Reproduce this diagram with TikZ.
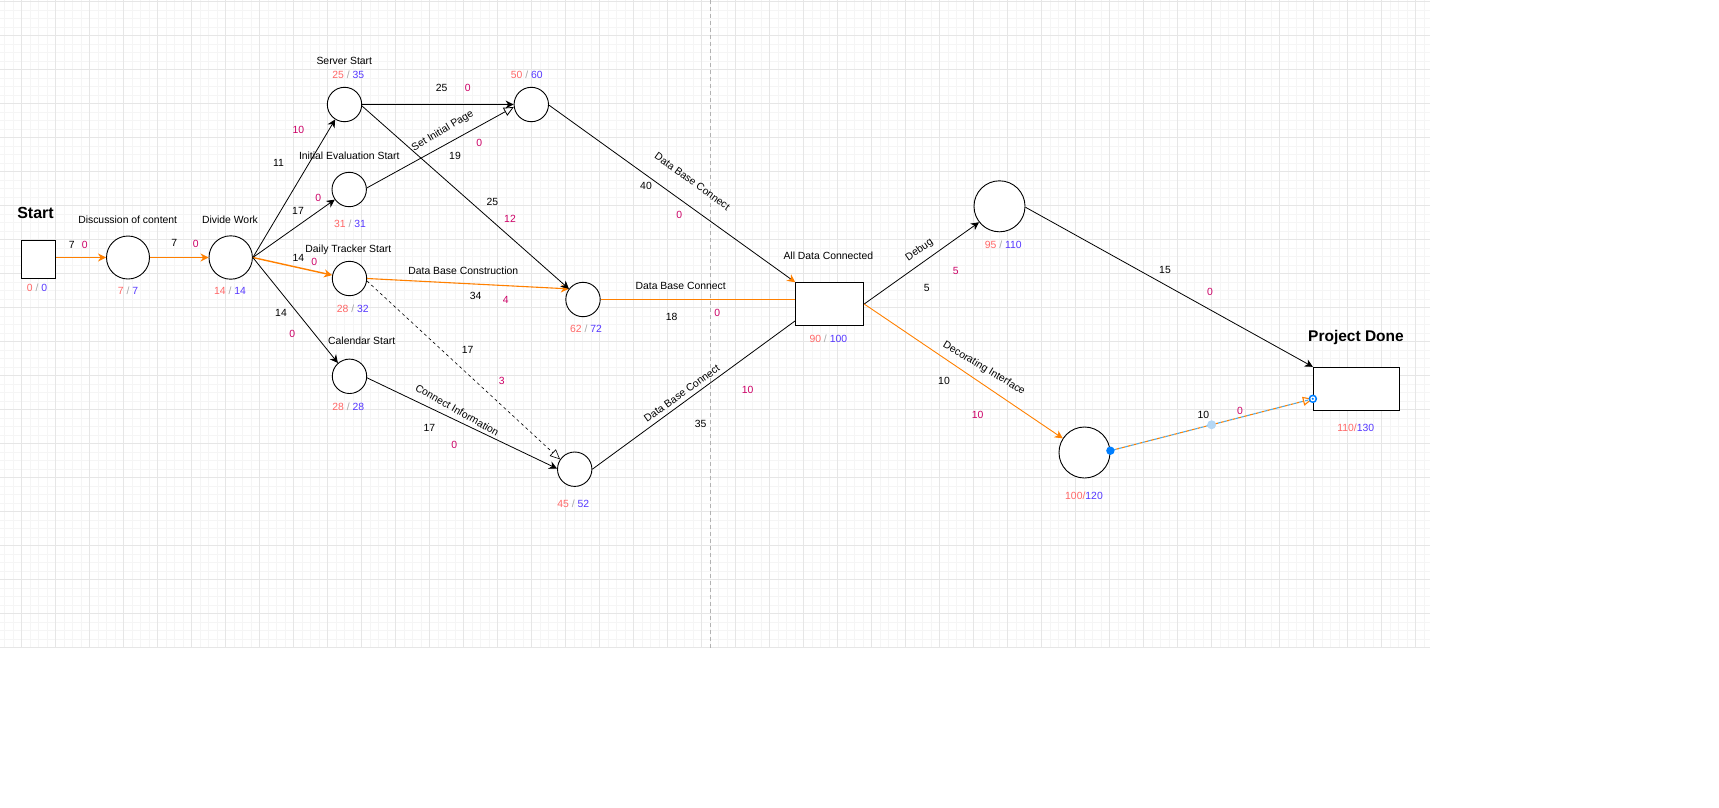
\documentclass[tikz,border=0pt]{standalone}
\usepackage{fontspec}
\setmainfont{Liberation Sans}
\usetikzlibrary{arrows.meta}
\definecolor{esred}{RGB}{255,102,102}
\definecolor{lsblue}{RGB}{85,55,255}
\definecolor{slack}{RGB}{204,0,102}
\definecolor{flow}{RGB}{255,128,0}
\definecolor{handle}{RGB}{0,127,255}
\definecolor{halo}{RGB}{180,215,245}
\definecolor{dashblue}{RGB}{80,170,225}
\definecolor{gridlo}{RGB}{245,245,245}
\definecolor{gridhi}{RGB}{230,230,230}

\begin{document}
\begin{tikzpicture}[x=1pt, y=-1pt,
	txt/.style={inner sep=0pt, text height=7.5pt, text depth=0pt, font=\fontsize{10.4}{12}\selectfont},
	slk/.style={txt, text=slack},
	title/.style={inner sep=0pt, font=\fontsize{15.5}{18}\selectfont\bfseries},
	evt/.style={circle, draw, line width=0.9pt, inner sep=0pt, minimum size=34.4pt, fill=white},
	box/.style={rectangle, draw, line width=1pt, inner sep=0pt, fill=white},
	link/.style={line width=0.8pt, -{Stealth[length=8pt, width=8pt, inset=2.5pt]}},
	crit/.style={link, draw=flow, line width=1.1pt},
	opentip/.style={-{Triangle[open, length=10pt, width=9pt]}}]
	\useasboundingbox (0,0) rectangle (1719,807);
	% grid
	\foreach \k in {-2,...,165}
		\draw [gridlo, line width=1pt] ({21.7+8.5*\k},0) -- ({21.7+8.5*\k},647.7);
	\foreach \k in {0,...,76}
		\draw [gridlo, line width=1pt] (0,{1.7+8.5*\k}) -- (1430,{1.7+8.5*\k});
	\foreach \k in {0,...,41}
		\draw [gridhi, line width=1pt] ({21.7+34*\k},0) -- ({21.7+34*\k},647.7);
	\foreach \k in {0,...,19}
		\draw [gridhi, line width=1pt] (0,{1.7+34*\k}) -- (1430,{1.7+34*\k});
	\draw [gray!60, line width=1pt, dash pattern=on 4pt off 3pt] (710.3,0) -- (710.3,647.7);

	% events
	\node [box, line width=1.3pt, minimum width=34pt, minimum height=38pt] (start) at (38.7,259.5) {};
	\node [evt, minimum size=43pt] (discuss) at (128,257.5) {};
	\node [evt, minimum size=43.4pt] (divide) at (230.7,257.5) {};
	\node [evt] (server) at (344.5,104.5) {};
	\node [evt] (initeval) at (349.2,189.5) {};
	\node [evt] (tracker) at (349.5,278.5) {};
	\node [evt] (calendar) at (349.5,376.3) {};
	\node [evt] (page) at (531.3,104.5) {};
	\node [evt] (dbbuild) at (583,299.5) {};
	\node [evt] (connect) at (574.7,469.2) {};
	\node [box, minimum width=68pt, minimum height=42.6pt] (alldata) at (829.7,304) {};
	\node [evt, minimum size=51pt] (debug) at (999.5,206.3) {};
	\node [evt, minimum size=51pt] (decor) at (1084.5,452.5) {};
	\node [box, minimum width=85.7pt, minimum height=43pt] (done) at (1356.2,388.8) {};

	% activities
	\draw [crit] (discuss.west -| start.east) -- (discuss.west);
	\draw [crit] (discuss.east) -- (divide.west);
	\draw [link] (divide.east) -- (server.238);
	\draw [link] (divide.east) -- (initeval.215);
	\draw [crit, line width=1.4pt] (divide.east) -- (tracker.169);
	\draw [link] (divide.east) -- (calendar.131);
	\draw [link, line width=1.3pt] (server.east) -- (page.west);
	\draw [line width=0.8pt, opentip] (initeval.5) -- (page.188);
	\draw [crit] (tracker.east) -- (dbbuild.143);
	\draw [link] (server.-5) -- (dbbuild.143);
	\draw [line width=0.6pt, dashed, opentip] (tracker.-8) -- (connect.146);
	\draw [link] (calendar.-5) -- (connect.178);
	\draw [line width=0.8pt, -{Stealth[length=8pt, width=8pt, inset=2.5pt, color=flow]}] (page.-2) -- (alldata.north west);
	\draw [draw=flow, line width=1.1pt] (dbbuild.east) -- (dbbuild.east -| alldata.west);
	\draw [line width=0.8pt] (connect.east) -- (alldata.206);
	\draw [link] (alldata.east) -- (debug.218);
	\draw [crit, line width=0.9pt] (alldata.east) -- (decor.147);
	\draw [link] (debug.-2) -- (done.north west);
	\draw [draw=flow, line width=1.1pt, dash pattern=on 3pt off 3pt, -{Triangle[open, length=10pt, width=9pt, color=flow]}] (decor.4) -- coordinate[pos=0.5] (hmid) (done.193);
	\draw [dashblue, line width=1.1pt, dash pattern=on 3pt off 3pt, dash phase=3pt] (decor.4) -- (done.193);
	\fill [handle] (decor.4) circle [radius=4.2pt];
	\fill [halo] (hmid) circle [radius=4.5pt];
	\fill [handle] (done.193) circle [radius=4.3pt];
	\fill [white] (done.193) circle [radius=2.5pt];
	\fill [handle] (done.193) circle [radius=1.2pt];

	% titles
	\node [title, font=\fontsize{16}{18}\selectfont\bfseries] (tstart) at (35.5,213) {Start};
	\node [title] (tdone) at (1356,337.7) {Project Done};
	\node [txt] (tdiscuss) at (127.7,220) {Discussion of content};
	\node [txt] (tdivide) at (230,220) {Divide Work};
	\node [txt] (tserver) at (344.3,60.7) {Server Start};
	\node [txt] (tiniteval) at (349.3,155.7) {Initial Evaluation Start};
	\node [txt] (ttracker) at (348.3,248.7) {Daily Tracker Start};
	\node [txt] (tcalendar) at (361.7,340.7) {Calendar Start};
	\node [txt] (talldata) at (828.3,255.7) {All Data Connected};
	\node [txt] (tbuild) at (463.3,270.7) {Data Base Construction};
	\node [txt] (tlink) at (680.7,285.7) {Data Base Connect};
	\node [txt, rotate=31] (tpage) at (442.2,130) {Set Initial Page};
	\node [txt, rotate=-29.5] (tinfo) at (457.2,410) {Connect Information};
	\node [txt, rotate=-36] (tupper) at (692.5,181.2) {Data Base Connect};
	\node [txt, rotate=35.5] (tlower) at (681.7,393.3) {Data Base Connect};
	\node [txt, rotate=35] (tdebug) at (918.8,249.2) {Debug};
	\node [txt, rotate=-31] (tdecor) at (984.5,367.5) {Decorating Interface};

	% early / late times
	\node [txt] (e0) at (37,288) {\textcolor{esred}{0} \textcolor{gray!70}{/} \textcolor{lsblue}{0}};
	\node [txt] (e1) at (128,291) {\textcolor{esred}{7} \textcolor{gray!70}{/} \textcolor{lsblue}{7}};
	\node [txt] (e2) at (230,291) {\textcolor{esred}{14} \textcolor{gray!70}{/} \textcolor{lsblue}{14}};
	\node [txt] (e3) at (348.3,74.7) {\textcolor{esred}{25} \textcolor{gray!70}{/} \textcolor{lsblue}{35}};
	\node [txt] (e4) at (350,224) {\textcolor{esred}{31} \textcolor{gray!70}{/} \textcolor{lsblue}{31}};
	\node [txt] (e5) at (352.7,309) {\textcolor{esred}{28} \textcolor{gray!70}{/} \textcolor{lsblue}{32}};
	\node [txt] (e6) at (348.3,406.7) {\textcolor{esred}{28} \textcolor{gray!70}{/} \textcolor{lsblue}{28}};
	\node [txt] (e7) at (526.7,74.7) {\textcolor{esred}{50} \textcolor{gray!70}{/} \textcolor{lsblue}{60}};
	\node [txt] (e8) at (586,329) {\textcolor{esred}{62} \textcolor{gray!70}{/} \textcolor{lsblue}{72}};
	\node [txt] (e9) at (573.3,503.3) {\textcolor{esred}{45} \textcolor{gray!70}{/} \textcolor{lsblue}{52}};
	\node [txt] (e10) at (828.3,338.3) {\textcolor{esred}{90} \textcolor{gray!70}{/} \textcolor{lsblue}{100}};
	\node [txt] (e11) at (1003.3,244.3) {\textcolor{esred}{95} \textcolor{gray!70}{/} \textcolor{lsblue}{110}};
	\node [txt] (e12) at (1084,495.7) {\textcolor{esred}{100/}\textcolor{lsblue}{120}};
	\node [txt] (e13) at (1355.7,427.3) {\textcolor{esred}{110/}\textcolor{lsblue}{130}};

	% durations and slack
	\node [txt] (d1) at (71.7,244.3) {7};
	\node [slk] (s1) at (84.7,244.3) {0};
	\node [txt] (d2) at (174.3,242.3) {7};
	\node [slk] (s2) at (195.7,244) {0};
	\node [txt] (d3) at (278.5,162.3) {11};
	\node [slk] (s3) at (298.3,129.3) {10};
	\node [txt] (d4) at (298,210.7) {17};
	\node [slk] (s4) at (318.3,197.3) {0};
	\node [txt] (d5) at (298.3,257.3) {14};
	\node [slk] (s5) at (314.3,261.7) {0};
	\node [txt] (d6) at (281,312.3) {14};
	\node [slk] (s6) at (292.3,334) {0};
	\node [txt] (d7) at (441.7,87.7) {25};
	\node [slk] (s7) at (467.7,87.7) {0};
	\node [txt] (d8) at (455,155.7) {19};
	\node [slk] (s8) at (479.3,142.3) {0};
	\node [txt] (d9) at (492.3,202) {25};
	\node [slk] (s9) at (510,218.8) {12};
	\node [txt] (d10) at (475.7,295.7) {34};
	\node [slk] (s10) at (505.7,300) {4};
	\node [txt] (d11) at (467.7,350) {17};
	\node [slk] (s11) at (501.7,380.7) {3};
	\node [txt] (d12) at (429.3,427.7) {17};
	\node [slk] (s12) at (454.3,444.3) {0};
	\node [txt] (d13) at (646,186) {40};
	\node [slk] (s13) at (679.3,214.3) {0};
	\node [txt] (d14) at (671.7,316.7) {18};
	\node [slk] (s14) at (717.3,312.3) {0};
	\node [txt] (d15) at (700.7,423.3) {35};
	\node [slk] (s15) at (747.7,389.3) {10};
	\node [txt] (d16) at (926.7,287.3) {5};
	\node [slk] (s16) at (955.7,270.7) {5};
	\node [txt] (d17) at (944,380.7) {10};
	\node [slk] (s17) at (977.7,414.3) {10};
	\node [txt] (d18) at (1165,270) {15};
	\node [slk] (s18) at (1210,291.7) {0};
	\node [txt] (d19) at (1203.3,414.3) {10};
	\node [slk] (s19) at (1240,410.7) {0};
\end{tikzpicture}
\end{document}
